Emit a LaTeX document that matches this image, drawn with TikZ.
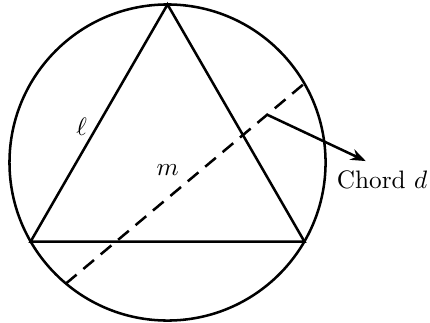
\documentclass[tikz,border=0pt]{standalone}
\usepackage{amsmath,amssymb}
\usetikzlibrary{arrows.meta,calc}

\begin{document}
\begin{tikzpicture}[line width=1pt]
\useasboundingbox (-2.332,-2.234) rectangle (3.654,2.262);
\def\rad{2.2}
\coordinate (O) at (0,0);
\draw (O) circle (\rad);
% inscribed triangle
\coordinate (A) at (90:\rad);
\coordinate (B) at (210:\rad);
\coordinate (C) at (330:\rad);
\draw (A) -- (B) -- (C) -- cycle;
% the chord
\coordinate (P) at (230:\rad);
\coordinate (Q) at (30:\rad);
\draw[dash pattern=on 5.5pt off 3.5pt] (P) -- (Q);
\coordinate (D) at ($(P)!0.844!(Q)$);
\node (chord) [anchor=west,inner sep=0pt] at (2.34,-0.24) {Chord $d$};
\coordinate (tip) at (2.76,0.02);
\draw[-{Stealth[length=6pt,width=4.5pt]}] (D) -- (tip);
\node (ell) at (-1.194,0.498) {$\ell$};
\node (m) at (0.003,-0.104) {$m$};
\end{tikzpicture}
\end{document}
